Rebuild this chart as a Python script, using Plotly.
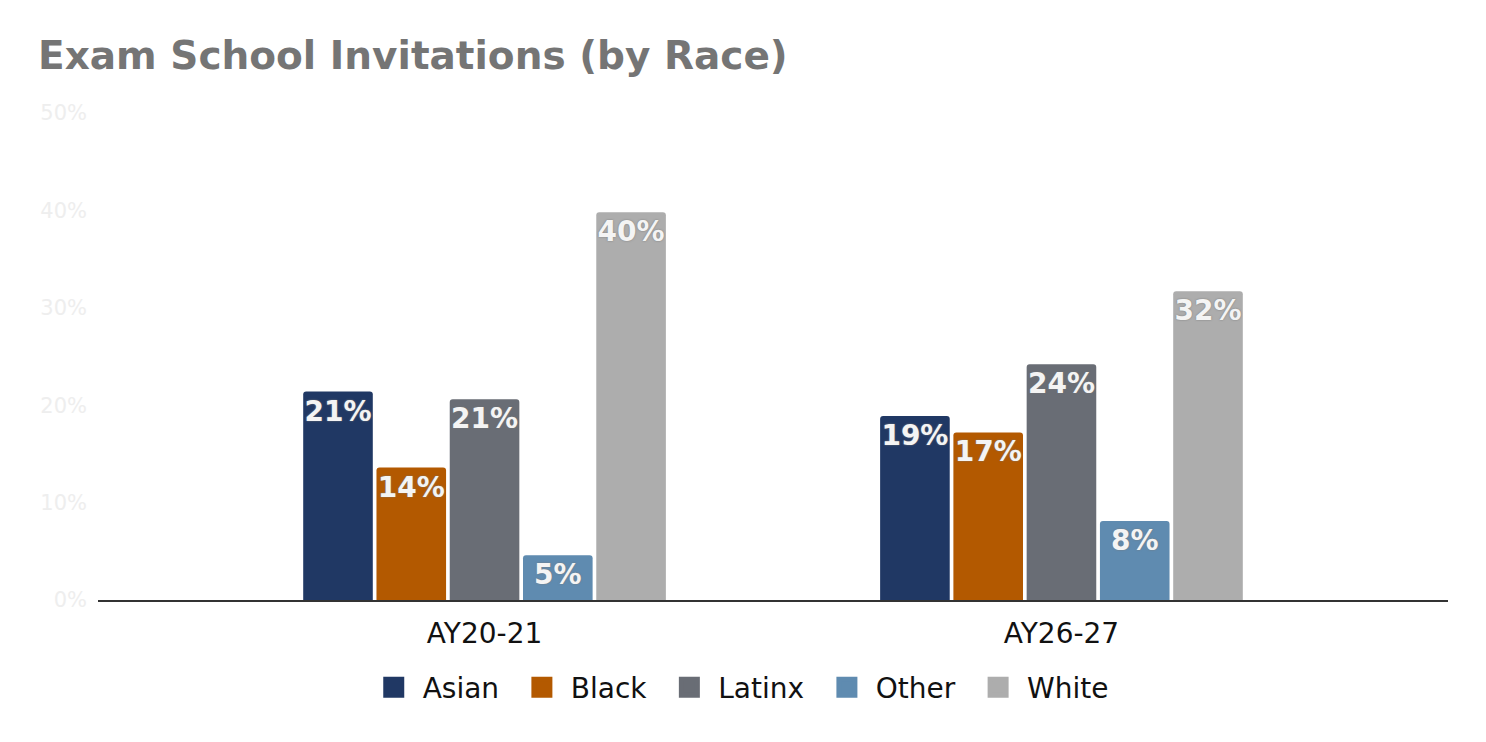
import plotly.graph_objects as go

categories = ["AY20-21", "AY26-27"]
groups = ["Asian", "Black", "Latinx", "Other", "White"]
values = {
    "Asian": [21.4, 18.9],
    "Black": [13.6, 17.2],
    "Latinx": [20.6, 24.2],
    "Other": [4.6, 8.1],
    "White": [39.8, 31.7],
}
colors = {
    "Asian": "#203864",
    "Black": "#b35900",
    "Latinx": "#696d75",
    "Other": "#5f8bb0",
    "White": "#adadad",
}
yticks = [0, 10, 20, 30, 40, 50]

fig = go.Figure()
for g in groups:
    fig.add_trace(go.Bar(
        name=g, x=categories, y=values[g], legendgroup=g, showlegend=False,
        marker=dict(color=colors[g], cornerradius=3, line=dict(width=0)),
        text=[f"{round(v)}%" for v in values[g]],
        textposition="inside", insidetextanchor="end", constraintext="none",
        textangle=0,
        textfont=dict(family="DejaVu Sans", size=28, color="#f4f4f4", weight="bold",
                      shadow="0px 0px 2px #777"),
        hoverinfo="skip",
    ))
for g in groups:
    fig.add_trace(go.Scatter(
        name=" " + g + "  ", x=[None], y=[None], mode="markers", legendgroup=g,
        showlegend=True,
        marker=dict(symbol="square", size=16, color=colors[g],
                    line=dict(color=colors[g], width=5)),
        hoverinfo="skip",
    ))

fig.update_layout(
    width=1470, height=726,
    barmode="group", bargap=0.365, bargroupgap=0.05,
    paper_bgcolor="white", plot_bgcolor="white",
    margin=dict(l=90, r=30, t=105, b=134),
    title=dict(text="<b>Exam School Invitations (by Race)</b>", x=0.0204, xanchor="left",
               y=0.935, yanchor="middle",
               font=dict(family="DejaVu Sans", size=39, color="#757575")),
    yaxis=dict(range=[0, 50], tickvals=yticks, ticktext=[f"{t}%" for t in yticks],
               showgrid=False, zeroline=False, showline=False, ticklabelstandoff=10,
               tickfont=dict(family="DejaVu Sans", size=21, color="#eeeeee")),
    xaxis=dict(range=[-0.67, 1.67], showline=True, linecolor="#333333", linewidth=2,
               ticks="", showgrid=False, zeroline=False, ticklabelstandoff=7,
               tickfont=dict(family="DejaVu Sans", size=28, color="#111111")),
    legend=dict(orientation="h", x=0.485, xanchor="center", y=-0.18, yanchor="middle",
                font=dict(family="DejaVu Sans", size=28, color="#111111"),
                traceorder="normal", itemclick=False, itemsizing="trace"),
    showlegend=True,
)

fig.write_html("out.html")
